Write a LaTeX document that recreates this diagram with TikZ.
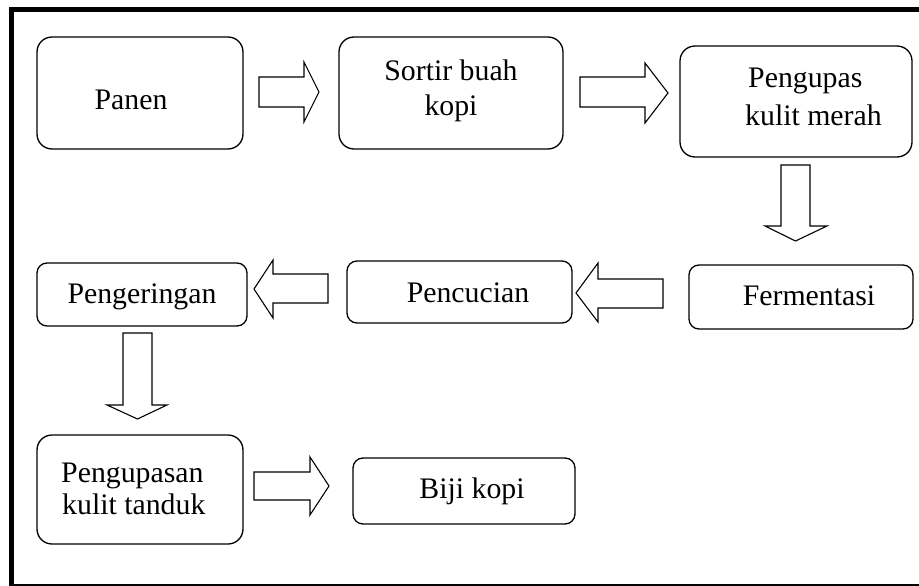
\documentclass[tikz,border=0pt]{standalone}
\usepackage{fontspec}
\setmainfont{Liberation Serif}
\begin{document}
\begin{tikzpicture}[x=1pt,y=-1pt,
  box/.style={draw,line width=1.3pt,rounded corners=#1,inner sep=0pt,outer sep=0pt},
  box/.default=15pt,
  txt/.style={font=\fontsize{29.8}{35}\selectfont,inner sep=0pt,anchor=base},
  txtw/.style={txt,anchor=base west},
  barrow/.style={draw,line width=1.1pt,line join=miter,fill=white},
  frameline/.style={draw,line cap=rect}]
\useasboundingbox (0,0) rectangle (919,586);
% frame
\draw[frameline,line width=5pt] (11.5,588) -- (11.5,9.5) -- (921,9.5);
\draw[line width=2pt] (9,584.5) -- (921,584.5);
% boxes
\node[box,minimum width=206pt,minimum height=112pt] (panen) at (140,93) {};
\node[box,minimum width=224pt,minimum height=112pt] (sortir) at (451,93) {};
\node[box,minimum width=232pt,minimum height=111pt] (kupas) at (796,101.5) {};
\node[box=10pt,minimum width=224pt,minimum height=64pt] (ferm) at (801,297) {};
\node[box=10pt,minimum width=225pt,minimum height=62pt] (cuci) at (459.5,292) {};
\node[box=10pt,minimum width=210pt,minimum height=63pt] (kering) at (142,294.5) {};
\node[box,minimum width=206pt,minimum height=109pt] (tanduk) at (140,489.5) {};
\node[box=10pt,minimum width=222pt,minimum height=66pt] (biji) at (464,491) {};
% texts
\node[txt] (tpanen) at (131,110) {Panen};
\node[txt] (tsortA) at (451,81) {Sortir buah};
\node[txt] (tsortB) at (451,116) {kopi};
\node[txtw] (tkupA) at (748,88) {Pengupas};
\node[txtw] (tkupB) at (745,125) {kulit merah};
\node[txt] (tferm) at (809,305) {Fermentasi};
\node[txt] (tcuci) at (468,302) {Pencucian};
\node[txt] (tkering) at (142,303) {Pengeringan};
\node[txtw] (ttanA) at (61,482) {Pengupasan};
\node[txtw] (ttanB) at (62,514) {kulit tanduk};
\node[txt] (tbiji) at (472,498) {Biji kopi};
% block arrows
\draw[barrow] (259,77) -- (304,77) -- (304,62) -- (319,92) -- (304,122) -- (304,107) -- (259,107) -- cycle;
\draw[barrow] (580,77) -- (645,77) -- (645,63) -- (668,93) -- (645,123) -- (645,107) -- (580,107) -- cycle;
\draw[barrow] (781,165) -- (781,226) -- (765,226) -- (795.5,241) -- (827,226) -- (810,226) -- (810,165) -- cycle;
\draw[barrow] (663,279) -- (598,279) -- (598,263) -- (576,293) -- (598,322) -- (598,308) -- (663,308) -- cycle;
\draw[barrow] (328,274) -- (273,274) -- (273,260) -- (254,289) -- (273,318) -- (273,303) -- (328,303) -- cycle;
\draw[barrow] (123,333) -- (123,405) -- (107,405) -- (137.5,419) -- (167,405) -- (152,405) -- (152,333) -- cycle;
\draw[barrow] (254,472) -- (310,472) -- (310,457) -- (329,486) -- (310,515) -- (310,500) -- (254,500) -- cycle;
\end{tikzpicture}
\end{document}
